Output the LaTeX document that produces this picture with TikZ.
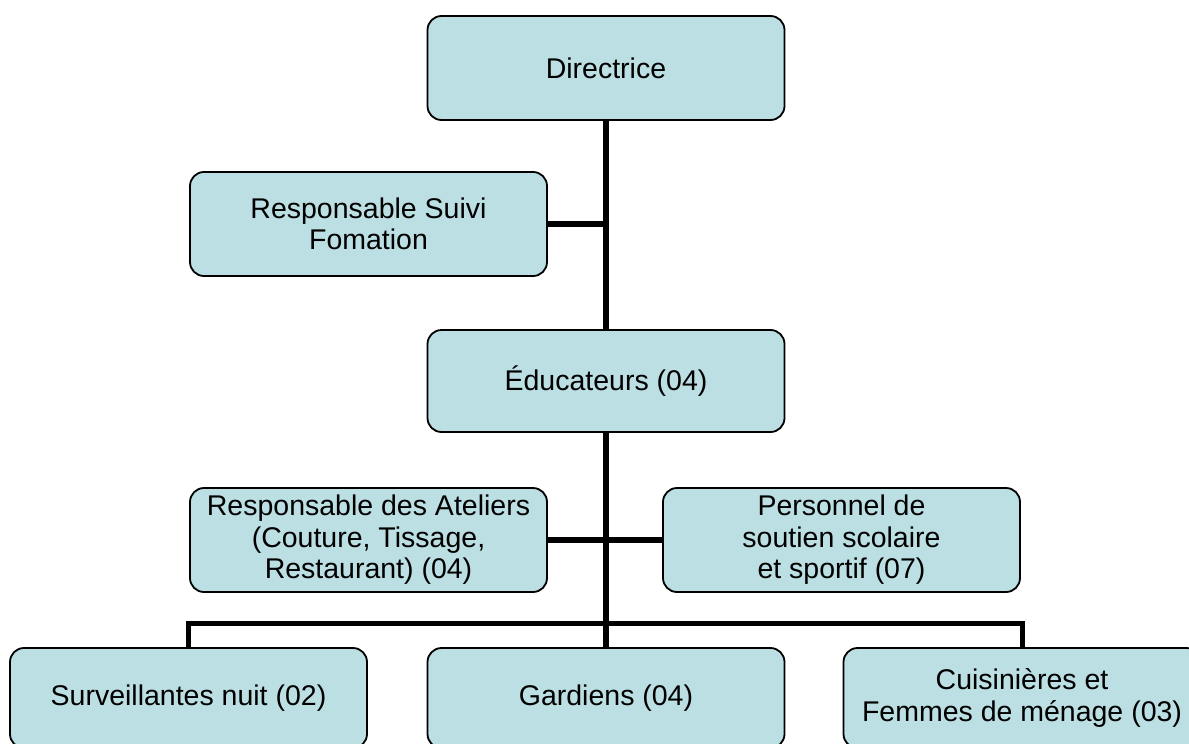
\documentclass[tikz,border=0pt]{standalone}
\usepackage{fontspec}
\setmainfont{Liberation Sans}
\definecolor{boxfill}{RGB}{187,223,226}
\begin{document}
\begin{tikzpicture}[x=1pt,y=-1pt,
  box/.style={draw=black,line width=1.8pt,fill=boxfill,rounded corners=14pt,
    minimum width=357pt,inner sep=0pt,align=center,
    font=\fontsize{28.5}{31.5}\selectfont},
  conn/.style={draw=black,line width=6.5pt}]
\useasboundingbox (0,0) rectangle (1189,744);
\clip (0,0) rectangle (1189,744);
\node[box,minimum height=104pt] (dir) at (606,68) {Directrice};
\node[box,minimum height=104pt] (rsf) at (368.5,224) {Responsable Suivi\\Fomation};
\node[box,minimum height=102pt] (edu) at (606,381) {Éducateurs (04)};
\node[box,minimum height=104pt] (rat) at (368.5,540) {Responsable des Ateliers\\(Couture, Tissage,\\Restaurant) (04)};
\node[box,minimum height=104pt] (pers) at (841.5,540) {Personnel de\\soutien scolaire\\et sportif (07)};
\node[box,minimum height=100pt] (sv) at (188.5,698) {Surveillantes nuit (02)};
\node[box,minimum height=100pt] (gard) at (606,698) {Gardiens (04)};
\node[box,minimum height=100pt] (cuis) at (1022,698) {Cuisinières et\\Femmes de ménage (03)};
\coordinate (bar) at (606,623);
\draw[conn] (dir.south) -- (edu.north);
\draw[conn] (rsf.east) -- (rsf.east -| dir.south);
\draw[conn] (rat.east) -- (pers.west);
\draw[conn] (edu.south) -- (gard.north);
\draw[conn,line width=5pt] (sv.north) |- (bar) -| (cuis.north);
\end{tikzpicture}
\end{document}
